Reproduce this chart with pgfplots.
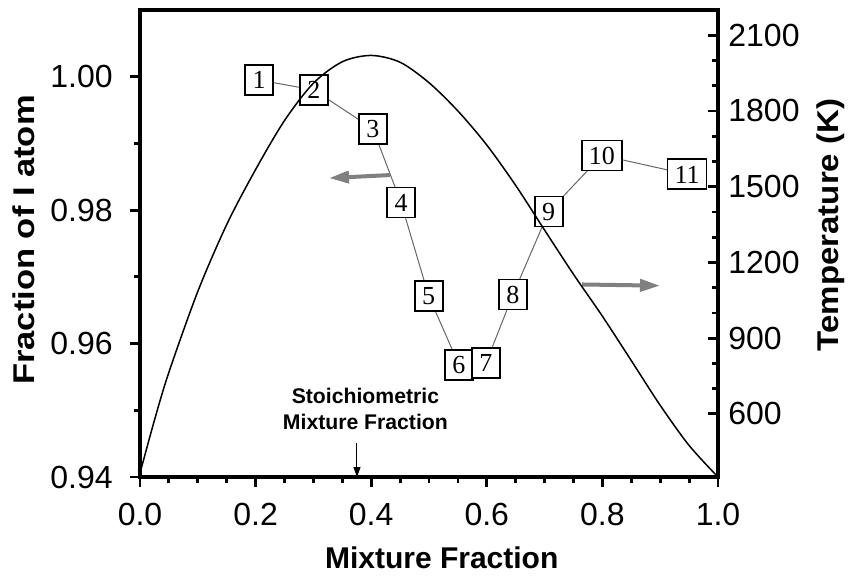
\documentclass[border=0pt]{standalone}
\usepackage{fontspec}
\setmainfont{Liberation Sans}
\newfontfamily\boxfont{Liberation Serif}
\usepackage{graphicx}
\usepackage{pgfplots}
\usepackage{pgfplotstable}
\pgfplotsset{compat=1.18}
\usetikzlibrary{arrows.meta}

% fraction of I atom along the mixture fraction, numbered points
\pgfplotstableread{
x       y        lab
0.2059  0.99951  1
0.3010  0.99801  2
0.4030  0.99217  3
0.4516  0.98112  4
0.4995  0.96713  5
0.5519  0.95679  6
0.5986  0.95709  7
0.6453  0.96733  8
0.7071  0.97977  9
0.7993  0.98822  10
0.9464  0.98538  11
}\iatom

% flame temperature (K)
\pgfplotstableread{
x     T
0.00  365
0.025 575
0.05  765
0.10  1085
0.15  1350
0.20  1568
0.25  1762
0.30  1910
0.35  1995
0.40  2020
0.45  1993
0.50  1912
0.55  1800
0.60  1665
0.65  1505
0.70  1328
0.75  1153
0.80  987
0.85  811
0.90  634
0.95  475
1.00  350
}\temp

\begin{document}
\begin{tikzpicture}
\pgfplotsset{
  common/.style={
    width=289pt, height=233.5pt, scale only axis,
    xmin=0, xmax=1, clip=false,
    axis line style={line width=1.6pt},
    major tick length=5pt, minor tick length=3pt,
    every tick/.style={line width=1.4pt, black},
    /pgf/number format/assume math mode=true,
    ticklabel style={font=\fontsize{16}{19}\selectfont},
    label style={font=\fontsize{15}{18}\selectfont\bfseries},
  },
}
\begin{axis}[common, name=ax,
  ymin=0.94, ymax=1.01,
  xtick={0,0.2,0.4,0.6,0.8,1}, minor x tick num=3,
  ytick={0.94,0.96,0.98,1.00}, minor y tick num=1,
  xtick pos=bottom, ytick pos=left, tick align=outside,
  xticklabel style={/pgf/number format/fixed, /pgf/number format/fixed zerofill,
    /pgf/number format/precision=1, inner sep=0pt, anchor=north},
  yticklabel style={/pgf/number format/fixed, /pgf/number format/fixed zerofill,
    /pgf/number format/precision=2, inner sep=0pt, anchor=east},
  xticklabel shift=8pt, yticklabel shift=8.5pt,
  xlabel={Mixture Fraction},
  xlabel style={at={(axis description cs:0.522,-0.1949)}, anchor=base},
  ylabel={\scalebox{1.15}[1]{Fraction of I atom}},
  ylabel style={at={(axis description cs:-0.2007,0.5075)}, anchor=center},
]
\addplot[color=black!60, line width=0.5pt, mark=none,
  nodes near coords, point meta=explicit symbolic,
  nodes near coords style={anchor=center, draw=black, fill=white, text=black,
    line width=0.8pt, font=\boxfont\fontsize{13}{15}\selectfont,
    text height=8.8pt, text depth=0pt, inner xsep=3.5pt, inner ysep=2.95pt,
    minimum width=14pt, minimum height=15pt}]
  table[x=x, y=y, meta=lab] {\iatom};

% arrows pointing to the axis each curve belongs to
\draw[-{Triangle[length=10pt,width=6pt]}, line width=2pt, color=black!50]
  (axis cs:0.4325,0.98526) -- (axis cs:0.327,0.98481);
\draw[-{Triangle[length=10pt,width=6pt]}, line width=2pt, color=black!50]
  (axis cs:0.7647,0.96886) -- (axis cs:0.8997,0.96868);

% stoichiometric mixture fraction marker
\draw[-{Triangle[length=5pt,width=3.5pt]}, line width=0.5pt]
  (axis cs:0.3754,0.9451) -- (axis cs:0.3754,0.94);
\node[align=center, inner sep=0pt, font=\fontsize{10.6}{13.3}\selectfont\bfseries]
  at (axis cs:0.39,0.9502) {Stoichiometric\\Mixture Fraction};
\end{axis}

\begin{axis}[common,
  ymin=350, ymax=2200,
  axis x line=none, axis y line*=right,
  ytick={600,900,1200,1500,1800,2100}, minor y tick num=2,
  ytick pos=right, tick align=inside,
  yticklabel style={/pgf/number format/fixed, /pgf/number format/precision=0,
    /pgf/number format/1000 sep={}, inner sep=0pt, anchor=west},
  yticklabel shift=5pt,
  ylabel={\scalebox{1.1}[1]{Temperature (K)}},
  ylabel style={at={(axis description cs:1.1955,0.5396)}, anchor=center},
]
\addplot[black, line width=0.75pt, smooth, mark=none] table[x=x, y=T] {\temp};
\end{axis}

\pgfresetboundingbox
\path (ax.south west) ++(-70pt,-49pt) rectangle ++(425.5pt,287.5pt);
\end{tikzpicture}
\end{document}
